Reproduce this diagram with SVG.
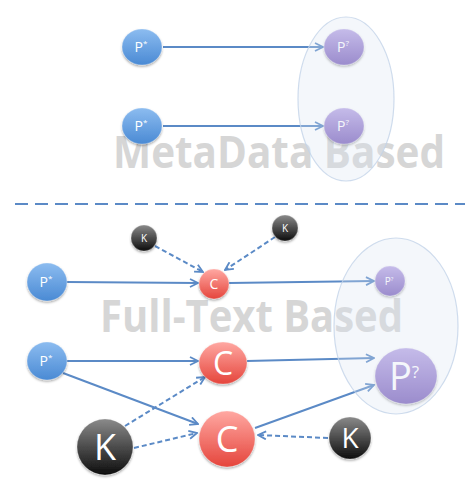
<svg xmlns="http://www.w3.org/2000/svg" width="465" height="479" viewBox="0 0 465 479">
<defs>
<linearGradient id="gBlue" x1="0" y1="0" x2="0" y2="1"><stop offset="0" stop-color="#8cbcf0"/><stop offset="1" stop-color="#4a8ad4"/></linearGradient>
<linearGradient id="gPurple" x1="0" y1="0" x2="0" y2="1"><stop offset="0" stop-color="#bcaae6"/><stop offset="1" stop-color="#8066bd"/></linearGradient>
<linearGradient id="gRed" x1="0" y1="0" x2="0" y2="1"><stop offset="0" stop-color="#ffa8a2"/><stop offset="1" stop-color="#e5453c"/></linearGradient>
<linearGradient id="gBlack" x1="0" y1="0" x2="0" y2="1"><stop offset="0" stop-color="#8a8a8a"/><stop offset="1" stop-color="#0d0d0d"/></linearGradient>
<filter id="sh" x="-30%" y="-30%" width="160%" height="170%"><feDropShadow dx="0" dy="1.5" stdDeviation="1.2" flood-color="#000" flood-opacity="0.35"/></filter>
<marker id="arr" viewBox="0 0 10 10" refX="9" refY="5" markerWidth="5" markerHeight="5" orient="auto" markerUnits="strokeWidth">
<path d="M1,1 L9,5 L1,9" fill="none" stroke="#5b8ac6" stroke-width="1.8"/>
</marker>
</defs>
<style>
.n{filter:url(#sh);stroke:#ffffff;stroke-opacity:0.35;stroke-width:0.8}
.blue{fill:url(#gBlue)}.purple{fill:url(#gPurple)}.red{fill:url(#gRed)}.black{fill:url(#gBlack)}
.t{fill:#ffffff;font-family:"Open Sans","Liberation Sans",sans-serif;text-anchor:middle}
.c{stroke:#5b8ac6;stroke-width:2;fill:none;marker-end:url(#arr)}
.d{stroke-dasharray:5,3}
.big{font-family:"Open Sans","Liberation Sans",sans-serif;font-weight:bold;font-size:44px;fill:#d6d6d6}
.hl{fill:#dbe5f1;fill-opacity:0.3;stroke:#c3d3e8;stroke-opacity:0.8;stroke-width:1.2}
</style>
<rect width="465" height="479" fill="#ffffff"/>
<text class="big" x="113" y="168" textLength="332" lengthAdjust="spacingAndGlyphs">MetaData Based</text>
<text class="big" x="100" y="332" textLength="303" lengthAdjust="spacingAndGlyphs">Full-Text Based</text>
<line x1="15" y1="204" x2="465" y2="204" stroke="#5b8ac6" stroke-width="2" stroke-dasharray="13,7"/>
<g id="connectors">
<line class="c" x1="163" y1="47" x2="323" y2="47"/>
<line class="c" x1="163" y1="126" x2="323" y2="126"/>
<line class="c d" x1="155" y1="246" x2="203" y2="272"/>
<line class="c d" x1="275" y1="237" x2="225" y2="270"/>
<line class="c" x1="67" y1="282" x2="198" y2="283"/>
<line class="c" x1="229" y1="283" x2="374" y2="281"/>
<line class="c" x1="67" y1="361" x2="198" y2="361"/>
<line class="c" x1="63" y1="373" x2="198" y2="424"/>
<line class="c" x1="247" y1="361" x2="374" y2="358"/>
<line class="c" x1="255" y1="428" x2="374" y2="385"/>
<line class="c d" x1="125" y1="426" x2="205" y2="377"/>
<line class="c d" x1="134" y1="448" x2="197" y2="433"/>
<line class="c d" x1="328" y1="438" x2="258" y2="435"/>
</g>
<g id="pstar1"><ellipse class="n blue" cx="142" cy="47" rx="20" ry="18"/><text class="t" x="141" y="52" font-size="14">P<tspan font-size="8" dy="-6">*</tspan></text></g>
<g id="pstar2"><ellipse class="n blue" cx="142" cy="126" rx="20" ry="18"/><text class="t" x="141" y="131" font-size="14">P<tspan font-size="8" dy="-6">*</tspan></text></g>
<g id="pq1"><ellipse class="n purple" cx="344" cy="47" rx="20" ry="18"/><text class="t" x="343" y="52" font-size="14">P<tspan font-size="8" dy="-6">?</tspan></text></g>
<g id="pq2"><ellipse class="n purple" cx="344" cy="126" rx="20" ry="18"/><text class="t" x="343" y="131" font-size="14">P<tspan font-size="8" dy="-6">?</tspan></text></g>
<g id="k1"><circle class="n black" cx="144" cy="238" r="13"/><text class="t" x="144" y="242" font-size="10">K</text></g>
<g id="k2"><circle class="n black" cx="285" cy="228" r="13"/><text class="t" x="285" y="232" font-size="10">K</text></g>
<g id="pstar3"><ellipse class="n blue" cx="47" cy="282" rx="20" ry="19"/><text class="t" x="46" y="287" font-size="14">P<tspan font-size="8" dy="-6">*</tspan></text></g>
<g id="c1"><circle class="n red" cx="214" cy="284" r="15"/><text class="t" x="214" y="289" font-size="14">C</text></g>
<g id="pq3"><circle class="n purple" cx="390" cy="281" r="15"/><text class="t" x="389" y="285" font-size="10">P<tspan font-size="6" dy="-4">?</tspan></text></g>
<g id="pstar4"><ellipse class="n blue" cx="47" cy="361" rx="20" ry="19"/><text class="t" x="46" y="366" font-size="14">P<tspan font-size="8" dy="-6">*</tspan></text></g>
<g id="c2"><ellipse class="n red" cx="223" cy="363" rx="24" ry="21"/><text class="t" x="223" y="375" font-size="32">C</text></g>
<g id="pq4"><ellipse class="n purple" cx="406" cy="376" rx="31" ry="28"/><text class="t" x="404" y="390" font-size="38">P<tspan font-size="17" dy="-12">?</tspan></text></g>
<g id="c3"><circle class="n red" cx="227" cy="439" r="28"/><text class="t" x="227" y="452" font-size="36">C</text></g>
<g id="k3"><circle class="n black" cx="105" cy="447" r="28"/><text class="t" x="105" y="460" font-size="36">K</text></g>
<g id="k4"><circle class="n black" cx="350" cy="438" r="21"/><text class="t" x="350" y="448" font-size="28">K</text></g>
<ellipse class="hl" cx="346" cy="99" rx="48" ry="82"/>
<ellipse class="hl" cx="396" cy="326" rx="62" ry="88"/>
</svg>
